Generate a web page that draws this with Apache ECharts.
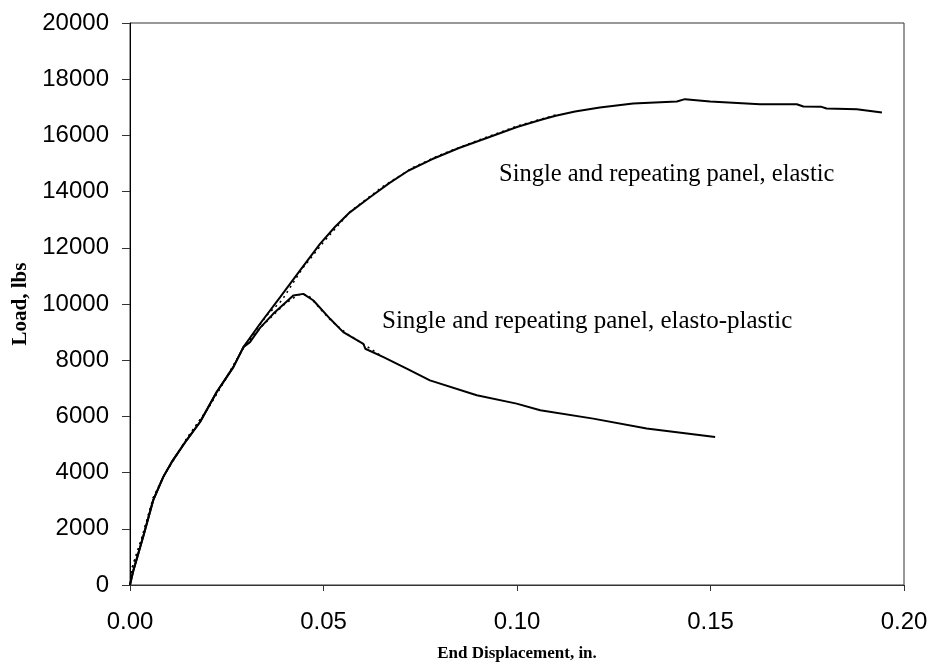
<!DOCTYPE html>
<html>
<head>
<meta charset="utf-8">
<script src="https://cdn.jsdelivr.net/npm/echarts@6/dist/echarts.min.js"></script>
<style>
  html, body { margin: 0; padding: 0; background: #fff; }
  #chart { width: 934px; height: 670px; }
</style>
</head>
<body>
<div id="chart"></div>
<script>
// Load vs end displacement, [displacement (in.), load (lbs)]
const elasticSolid = [
  [0, 0], [0.0004, 250], [0.0009, 530], [0.0034, 1716], [0.006, 3020], [0.0086, 3848],
  [0.0108, 4380], [0.0146, 5150], [0.0181, 5800], [0.0224, 6867], [0.0267, 7755],
  [0.0293, 8465], [0.0336, 9297], [0.0388, 10243], [0.0439, 11190], [0.0491, 12138],
  [0.053, 12750], [0.0568, 13262], [0.062, 13800], [0.067, 14300], [0.072, 14750],
  [0.078, 15150], [0.085, 15550], [0.092, 15900], [0.1, 16300], [0.106, 16550],
  [0.11, 16700], [0.115, 16850], [0.1214, 16990], [0.13, 17133], [0.1413, 17204],
  [0.1434, 17290], [0.1499, 17204], [0.1628, 17110], [0.1723, 17110], [0.174, 17027],
  [0.1787, 17016], [0.18, 16956], [0.1878, 16933], [0.1943, 16814]
];
const elastoPlasticSolid = [
  [0, 0], [0.0004, 250], [0.0009, 530], [0.0034, 1716], [0.006, 3020], [0.0086, 3848],
  [0.0108, 4380], [0.0146, 5150], [0.0181, 5800], [0.0224, 6867], [0.0267, 7755],
  [0.0293, 8465], [0.031, 8643], [0.0336, 9150], [0.037, 9650], [0.0422, 10300],
  [0.0448, 10360], [0.0474, 10125], [0.0517, 9473], [0.0551, 8999], [0.0603, 8585],
  [0.0608, 8408], [0.0655, 8110], [0.0715, 7697], [0.0775, 7282], [0.0896, 6750],
  [0.0999, 6455], [0.106, 6217], [0.1197, 5921], [0.1335, 5566], [0.1512, 5270]
];
const elasticDotted = [
  [0, 0], [0.0005, 600], [0.003, 1650], [0.006, 3100], [0.009, 3950], [0.0146, 5200],
  [0.02, 6250], [0.025, 7400], [0.0293, 8430], [0.0353, 9591], [0.0392, 10124],
  [0.0445, 11250], [0.05, 12200], [0.057, 13300], [0.065, 14150], [0.073, 14850],
  [0.08, 15300], [0.09, 15830], [0.1, 16330], [0.11, 16730]
];
const elastoPlasticDotted = [
  [0, 0], [0.0005, 600], [0.003, 1650], [0.006, 3100], [0.009, 3950], [0.0146, 5200],
  [0.02, 6250], [0.025, 7400], [0.0293, 8430], [0.034, 9200], [0.04, 10000],
  [0.0435, 10330], [0.046, 10330], [0.049, 9850], [0.052, 9400], [0.056, 8950],
  [0.06, 8600], [0.065, 8150]
];

const xTicks = { min: 0, max: 0.2, step: 0.05 };
const yTicks = { min: 0, max: 20000, step: 2000 };

const labelElastic = 'Single and repeating panel, elastic';
const labelElastoPlastic = 'Single and repeating panel, elasto-plastic';
const xTitle = 'End Displacement, in.';
const yTitle = 'Load, lbs';

const chart = echarts.init(document.getElementById('chart'));

const tickFont = { fontFamily: 'Liberation Sans, Arial, sans-serif', fontSize: 24, color: '#000' };
const serif = '"Liberation Serif", "Times New Roman", serif';

function lineSeries(data, dotted) {
  return {
    type: 'line',
    data: data,
    showSymbol: false,
    symbol: 'none',
    smooth: false,
    animation: false,
    z: dotted ? 3 : 2,
    lineStyle: dotted
      ? { color: '#000', width: 1.5, type: [2, 4] }
      : { color: '#000', width: 2 }
  };
}

chart.setOption({
  backgroundColor: '#fff',
  animation: false,
  grid: {
    left: 130, right: 30, top: 23, bottom: 85,
    show: true, borderColor: '#333', borderWidth: 1
  },
  xAxis: {
    type: 'value',
    min: xTicks.min, max: xTicks.max, interval: xTicks.step,
    name: xTitle,
    nameLocation: 'middle',
    nameGap: 60,
    nameTextStyle: { fontFamily: serif, fontWeight: 'bold', fontSize: 17, color: '#000' },
    axisLine: { show: true, lineStyle: { color: '#333', width: 1 } },
    axisTick: { show: true, inside: false, length: 6, lineStyle: { color: '#333' } },
    axisLabel: Object.assign({ margin: 25, formatter: v => v.toFixed(2) }, tickFont),
    splitLine: { show: false }
  },
  yAxis: {
    type: 'value',
    min: yTicks.min, max: yTicks.max, interval: yTicks.step,
    name: yTitle,
    nameLocation: 'middle',
    nameGap: 92,
    nameRotate: 90,
    nameTextStyle: { fontFamily: serif, fontWeight: 'bold', fontSize: 21, color: '#000' },
    axisLine: { show: true, lineStyle: { color: '#000', width: 1 } },
    axisTick: { show: true, inside: false, length: 8, lineStyle: { color: '#333' } },
    axisLabel: Object.assign({ margin: 21, formatter: v => String(v) }, tickFont),
    splitLine: { show: false }
  },
  graphic: [
    {
      type: 'text', left: 499, top: 162,
      style: { text: labelElastic, font: '24.5px ' + serif, fill: '#000' }
    },
    {
      type: 'text', left: 382, top: 309,
      style: { text: labelElastoPlastic, font: '25px ' + serif, fill: '#000' }
    }
  ],
  series: [
    lineSeries(elasticSolid, false),
    lineSeries(elastoPlasticSolid, false),
    lineSeries(elasticDotted, true),
    lineSeries(elastoPlasticDotted, true)
  ]
});
</script>
</body>
</html>
